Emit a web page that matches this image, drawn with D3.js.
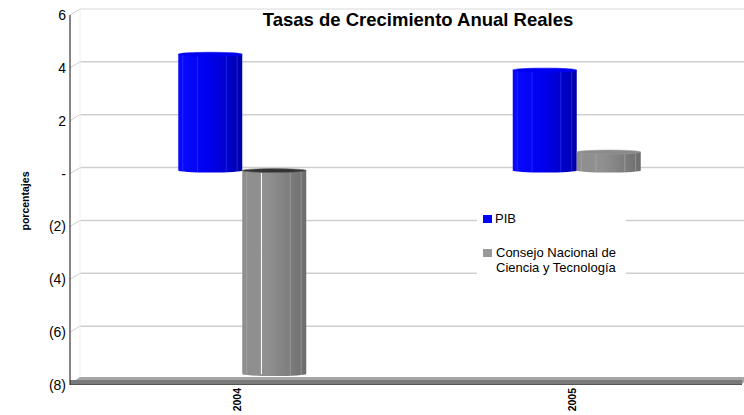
<!DOCTYPE html>
<html><head><meta charset="utf-8">
<script src="https://cdn.jsdelivr.net/npm/d3@7"></script>
<style>body{margin:0;background:#fff}svg{display:block;font-family:"Liberation Sans",Arial,sans-serif}</style>
</head><body><svg id="c" width="744" height="415"></svg>
<script>
const categories = ["2004", "2005"];
const seriesNames = ["PIB", "Consejo Nacional de Ciencia y Tecnología"];
const pibValues = [4.4, 3.8];
const conacytValues = [-7.7, 0.7];
const yTicks = [6, 4, 2, 0, -2, -4, -6, -8];
const yTickLabels = ["6", "4", "2", "-", "(2)", "(4)", "(6)", "(8)"];
const chartTitle = "Tasas de Crecimiento Anual Reales";
const yLabel = "porcentajes";

(function () {
const svg = d3.select("#c");
const W = 744;
const pLeft = 70, pRight = 739, pTop = 15, pBottom = 385;
const DX = 10, DY = -6; // 3D depth
const y = d3.scaleLinear().domain([-8, 6]).range([pBottom, pTop]);
const x = d3.scaleBand().domain(categories).range([pLeft, pRight]);
const xs = d3.scaleBand().domain(seriesNames).range([-64, 64]);

const defs = svg.append("defs");
function grad(id, stops) {
  const g = defs.append("linearGradient").attr("id", id).attr("x1", 0).attr("x2", 1).attr("y1", 0).attr("y2", 0);
  stops.forEach(s => g.append("stop").attr("offset", s[0]).attr("stop-color", s[1]));
}
grad("gBlue", [[0, "#0a0aff"], [0.45, "#0000f0"], [0.8, "#0000c8"], [1, "#0000a8"]]);
grad("gGray", [[0, "#8e8e8e"], [0.4, "#909090"], [0.8, "#7a7a7a"], [1, "#6c6c6c"]]);

// back wall gridlines
const gridColor = "#cfcfcf";
yTicks.forEach(t => {
  if (t === -8) return;
  svg.append("line").attr("x1", pLeft + DX).attr("x2", W).attr("y1", y(t) + DY).attr("y2", y(t) + DY)
    .attr("stroke", t === 6 ? "#e6e6e6" : gridColor).attr("stroke-width", 1.5);
  svg.append("line").attr("x1", pLeft).attr("x2", pLeft + DX).attr("y1", y(t)).attr("y2", y(t) + DY)
    .attr("stroke", gridColor).attr("stroke-width", 1);
});
svg.append("line").attr("x1", pLeft + DX).attr("x2", pLeft + DX).attr("y1", y(6) + DY).attr("y2", y(-8) + DY)
  .attr("stroke", "#eeeeee").attr("stroke-width", 1);

// legend background (covers gridlines)
svg.append("rect").attr("x", 477).attr("y", 205).attr("width", 149).attr("height", 85).attr("fill", "#fff");

// floor
svg.append("polygon").attr("points", [[pLeft, pBottom - 1], [pLeft + DX, pBottom + DY - 2], [W + 6, pBottom + DY - 2], [W - 2, pBottom - 1]].join(" "))
  .attr("fill", "#a6a6a6");
svg.append("rect").attr("x", pLeft).attr("y", pBottom - 5).attr("width", W - 2 - pLeft).attr("height", 5).attr("fill", "#7a7a7a");
svg.append("line").attr("x1", pLeft).attr("x2", W - 2).attr("y1", pBottom - 0.5).attr("y2", pBottom - 0.5).attr("stroke", "#555");

// bars (cylinders)
const data = [];
categories.forEach((c, i) => {
  data.push({ cat: c, s: seriesNames[0], v: pibValues[i], fill: "url(#gBlue)", line: "#4a4aff", edge: "#0000ff", cap: "#0000ee" });
  data.push({ cat: c, s: seriesNames[1], v: conacytValues[i], fill: "url(#gGray)", line: "#b8b8b8", edge: "#999", cap: "#8a8a8a" });
});
const bars = svg.append("g");
data.forEach(d => {
  const cx = x(d.cat) + x.bandwidth() / 2 + DX / 2;
  const x0 = cx + xs(d.s), w = xs.bandwidth();
  const ya = y(Math.max(0, d.v)) + DY / 2, yb = y(Math.min(0, d.v)) + DY / 2;
  const ry = 2;
  const g = bars.append("g");
  g.append("path").attr("d", `M${x0},${ya} L${x0},${yb} A${w / 2},${ry} 0 0 0 ${x0 + w},${yb} L${x0 + w},${ya} Z`).attr("fill", d.fill);
  [0.07, 0.3, 0.75, 0.92].forEach(f => {
    g.append("line").attr("x1", x0 + w * f).attr("x2", x0 + w * f).attr("y1", ya + 1).attr("y2", yb + 1)
      .attr("stroke", d.line).attr("stroke-opacity", 0.6).attr("stroke-width", 0.8);
  });
  if (d.v < 0) {
    g.append("line").attr("x1", x0 + w * 0.3).attr("x2", x0 + w * 0.3).attr("y1", ya + 2).attr("y2", yb)
      .attr("stroke", "#fff").attr("stroke-width", 1);
  }
  g.append("ellipse").attr("cx", x0 + w / 2).attr("cy", ya).attr("rx", w / 2).attr("ry", ry)
    .attr("fill", d.v < 0 ? "#333" : d.cap).attr("stroke", d.v < 0 ? "#666" : d.edge).attr("stroke-width", 0.6);
});

// y axis line
svg.append("line").attr("x1", pLeft).attr("x2", pLeft).attr("y1", pTop).attr("y2", pBottom).attr("stroke", "#333").attr("stroke-width", 1.2);

// tick labels
svg.append("g").selectAll("text").data(yTicks).join("text")
  .attr("x", 66).attr("y", t => y(t)).attr("dy", "0.36em").attr("text-anchor", "end")
  .attr("font-size", 14).attr("fill", "#000").text((t, i) => yTickLabels[i]);

// category labels
svg.append("g").selectAll("text").data(categories).join("text")
  .attr("transform", c => `translate(${x(c) + x.bandwidth() / 2 + 4},${pBottom + 3}) rotate(-90)`)
  .attr("text-anchor", "end").attr("font-size", 10.5).attr("font-weight", "bold").text(c => c);

// y label
svg.append("text").attr("transform", `translate(29,201) rotate(-90)`).attr("text-anchor", "middle")
  .attr("font-size", 10.5).attr("font-weight", "bold").text(yLabel);

// title
svg.append("text").attr("x", 418).attr("y", 26).attr("text-anchor", "middle")
  .attr("font-size", 18.5).attr("font-weight", "bold").text(chartTitle);

// legend
const lg = svg.append("g");
lg.append("rect").attr("x", 483).attr("y", 215).attr("width", 9).attr("height", 8).attr("fill", "#0000ff");
lg.append("text").attr("x", 495).attr("y", 223).attr("font-size", 13).text(seriesNames[0]);
lg.append("rect").attr("x", 483).attr("y", 249).attr("width", 9).attr("height", 8).attr("fill", "#999");
const t2 = lg.append("text").attr("x", 496).attr("y", 257).attr("font-size", 13);
t2.append("tspan").attr("x", 496).text("Consejo Nacional de");
t2.append("tspan").attr("x", 496).attr("dy", 15).text("Ciencia y Tecnología");
})();
</script></body></html>
